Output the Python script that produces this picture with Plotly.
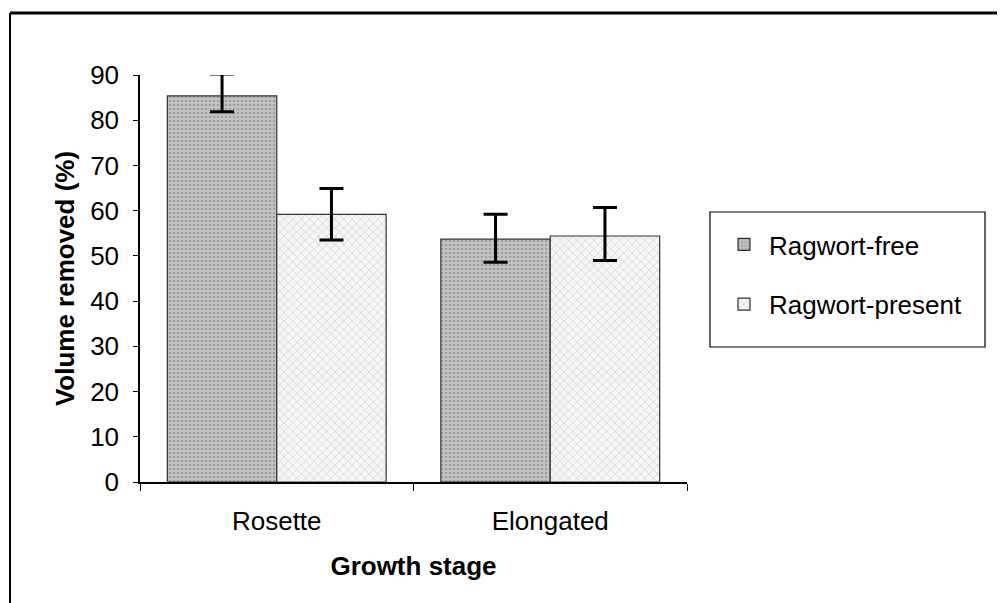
import plotly.graph_objects as go

categories = ["Rosette", "Elongated"]
series_names = ["Ragwort-free", "Ragwort-present"]
free_vals = [85.4, 53.7]
free_err_plus = [4.8, 5.5]
free_err_minus = [3.5, 5.1]
present_vals = [59.2, 54.4]
present_err_plus = [5.7, 6.3]
present_err_minus = [5.7, 5.4]
y_ticks = [0, 10, 20, 30, 40, 50, 60, 70, 80, 90]

FONT = "Liberation Sans, Arial, sans-serif"
FS = 26

OFF = 8  # default page body margin
W, H = 1005 - OFF, 603 - OFF
L = 140 - OFF
T = 75 - OFF
R = W - (687 - OFF)
B = H - (482 - OFF)
pw, ph = W - L - R, H - T - B

def px_x(p):
    return (p - OFF - L) / pw

def px_y(p):
    return (H - B - (p - OFF)) / ph

fig = go.Figure()
fig.add_trace(go.Bar(
    x=categories, y=free_vals, name=series_names[0],
    legendgroup="a",
    marker=dict(color="#bdbdbd", line=dict(color="#333333", width=1.2),
                pattern=dict(shape=".", fgcolor="#7a7a7a", bgcolor="#c4c4c4",
                             size=4, solidity=0.35)),
    error_y=dict(type="data", array=free_err_plus, arrayminus=free_err_minus,
                 color="black", thickness=3, width=12),
))
fig.add_trace(go.Bar(
    x=categories, y=present_vals, name=series_names[1],
    legendgroup="b",
    marker=dict(color="white", line=dict(color="#333333", width=1.2),
                pattern=dict(shape="x", fgcolor="#9a9a9a", bgcolor="#f6f6f6",
                             size=6, solidity=0.2)),
    error_y=dict(type="data", array=present_err_plus, arrayminus=present_err_minus,
                 color="black", thickness=3, width=12),
))

fig.update_layout(
    width=W, height=H,
    margin=dict(l=L, r=R, t=T, b=B, autoexpand=False),
    paper_bgcolor="white", plot_bgcolor="white",
    barmode="group", bargap=0.2, bargroupgap=0,
    font=dict(family=FONT, size=FS, color="black"),
    showlegend=True,
    legend=dict(x=px_x(719), y=px_y(221), xanchor="left", yanchor="top",
                borderwidth=0, bgcolor="rgba(0,0,0,0)",
                traceorder="grouped", tracegroupgap=23,
                font=dict(family=FONT, size=FS, color="black"),
                itemwidth=40),
    shapes=[
        dict(type="line", xref="paper", yref="paper",
             x0=px_x(10), x1=px_x(1005), y0=px_y(13), y1=px_y(13),
             line=dict(color="black", width=3)),
        dict(type="line", xref="paper", yref="paper",
             x0=px_x(10), x1=px_x(10), y0=px_y(13), y1=px_y(603),
             line=dict(color="black", width=2)),
        dict(type="rect", xref="paper", yref="paper",
             x0=px_x(710), x1=px_x(985), y0=px_y(212), y1=px_y(347),
             line=dict(color="black", width=1.2), fillcolor="white", layer="below"),
    ],
)

fig.update_xaxes(
    type="category", showline=True, linecolor="black", linewidth=1.5,
    ticks="outside", ticklen=7, tickcolor="black", tickson="boundaries",
    showgrid=False, zeroline=False,
    tickfont=dict(family=FONT, size=FS), ticklabelstandoff=15,
    title=dict(text="<b>Growth stage</b>", font=dict(family=FONT, size=FS), standoff=22),
)
fig.update_yaxes(
    range=[0, 90], tickvals=y_ticks, showline=True, linecolor="black", linewidth=1.5,
    ticks="outside", ticklen=5, tickcolor="black", showgrid=False, zeroline=False,
    tickfont=dict(family=FONT, size=FS), ticklabelstandoff=9,
    title=dict(text="<b>Volume removed (%)</b>", font=dict(family=FONT, size=FS), standoff=8),
)

fig.write_html("out.html")
